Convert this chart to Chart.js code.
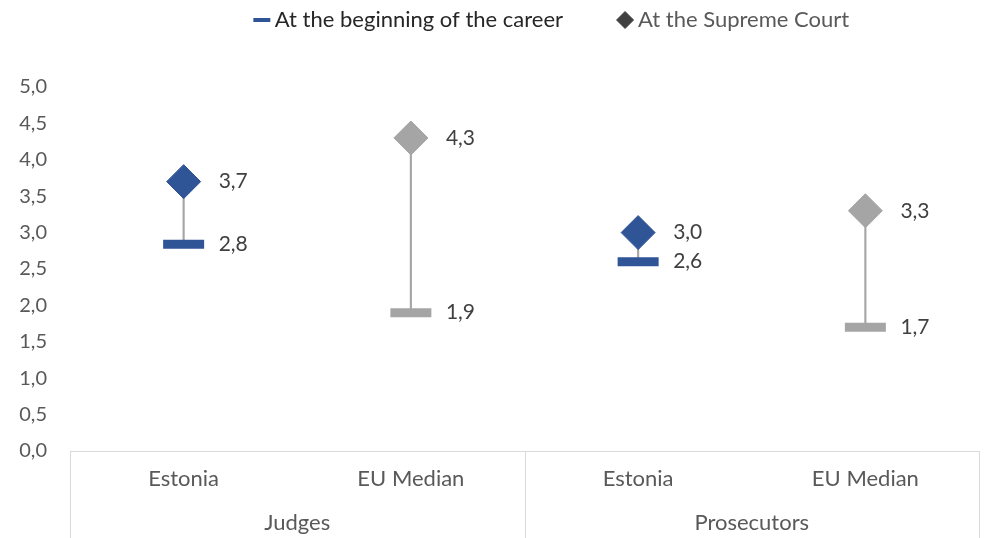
<!DOCTYPE html>
<html lang="en">
<head>
<meta charset="UTF-8">
<title>Salary at the beginning of the career and at the Supreme Court</title>
<script src="https://cdn.jsdelivr.net/npm/chart.js"></script>
<style>
  html, body { margin: 0; padding: 0; background: #fff; }
  #wrap { width: 984px; height: 538px; }
</style>
</head>
<body>
<div id="wrap"><canvas id="chart"></canvas></div>
<script>
// data
const categories = ['Estonia', 'EU Median', 'Estonia', 'EU Median'];
const groups = ['Judges', 'Prosecutors'];
const beginning = [2.84, 1.9, 2.6, 1.7];
const supreme = [3.7, 4.3, 3.0, 3.3];

const blue = '#2f5597';
const grey = '#a5a5a5';
const markerColors = [blue, grey, blue, grey];
const fontFamily = 'Lato, "Open Sans", sans-serif';

const fmt = v => v.toFixed(1).replace('.', ',');

// legend sits higher and off-centre like the original, with room under it
const legendPlace = {
    id: 'legendPlace',
    beforeInit(chart) {
        const legend = chart.legend;
        const fit = legend.fit;
        legend.fit = function () {
            fit.call(this);
            this.height -= 5;
        };
    },
    afterLayout(chart) {
        const legend = chart.legend;
        legend.top -= 51;
        legend.bottom -= 51;
        legend.left += 65;
        legend.right += 65;
    }
};

// box lines under the x axis (category group separators)
const boxLines = {
    id: 'boxLines',
    afterDraw(chart) {
        const x = chart.scales.x;
        const ctx = chart.ctx;
        const mid = (x.getPixelForValue(1) + x.getPixelForValue(2)) / 2;
        ctx.save();
        ctx.strokeStyle = '#d9d9d9';
        ctx.lineWidth = 1;
        ctx.beginPath();
        [x.left, mid, x.right].forEach(px => {
            const p = Math.round(px) + 0.5;
            ctx.moveTo(p, x.top);
            ctx.lineTo(p, chart.height);
        });
        ctx.stroke();
        ctx.restore();
    }
};

// value labels to the right of each marker
const valueLabels = {
    id: 'valueLabels',
    afterDatasetsDraw(chart) {
        const ctx = chart.ctx;
        ctx.save();
        ctx.font = '21px ' + fontFamily;
        ctx.fillStyle = '#404040';
        ctx.textAlign = 'left';
        ctx.textBaseline = 'middle';
        [1, 2].forEach(i => {
            chart.getDatasetMeta(i).data.forEach((pt, j) => {
                ctx.fillText(fmt(chart.data.datasets[i].data[j]), pt.x + 35, pt.y);
            });
        });
        ctx.restore();
    }
};

const ctx = document.getElementById('chart').getContext('2d');
new Chart(ctx, {
    data: {
        labels: categories,
        datasets: [
            {
                type: 'bar',
                label: 'range',
                data: beginning.map((b, i) => [b, supreme[i]]),
                backgroundColor: '#a6a6a6',
                barThickness: 1.5,
                order: 3
            },
            {
                type: 'line',
                label: 'At the beginning of the career',
                data: beginning,
                showLine: false,
                pointStyle: 'line',
                pointRadius: 20.5,
                pointBorderWidth: 9,
                pointBorderColor: markerColors,
                pointBackgroundColor: markerColors,
                order: 2
            },
            {
                type: 'line',
                label: 'At the Supreme Court',
                data: supreme,
                showLine: false,
                pointStyle: 'rectRot',
                pointRadius: 17,
                pointBorderWidth: 1,
                pointBorderColor: markerColors,
                pointBackgroundColor: markerColors,
                order: 1
            }
        ]
    },
    options: {
        responsive: true,
        maintainAspectRatio: false,
        animation: false,
        layout: { autoPadding: false, padding: { top: 0, right: 5, bottom: 0, left: 0 } },
        plugins: {
            tooltip: { enabled: false },
            legend: {
                position: 'top',
                labels: {
                    usePointStyle: true,
                    boxWidth: 4,
                    boxHeight: 12,
                    padding: 60,
                    font: { family: fontFamily, size: 22 },
                    generateLabels: () => [
                        {
                            text: 'At the beginning of the career',
                            pointStyle: 'line',
                            strokeStyle: blue,
                            fillStyle: blue,
                            lineWidth: 4,
                            fontColor: '#262626',
                            datasetIndex: 1
                        },
                        {
                            text: 'At the Supreme Court',
                            pointStyle: 'rectRot',
                            strokeStyle: '#404040',
                            fillStyle: '#404040',
                            lineWidth: 1,
                            fontColor: '#595959',
                            datasetIndex: 2
                        }
                    ]
                }
            }
        },
        scales: {
            y: {
                min: 0,
                max: 5,
                afterFit: scale => { scale.width = 70; },
                grid: { display: false, drawTicks: false },
                border: { display: false },
                ticks: {
                    stepSize: 0.5,
                    padding: 23,
                    color: '#595959',
                    font: { family: fontFamily, size: 20 },
                    callback: v => fmt(v)
                }
            },
            x: {
                offset: true,
                weight: 0,
                afterFit: scale => { scale.height = 49; },
                grid: { display: false, drawTicks: false },
                border: { display: true, color: '#d9d9d9' },
                ticks: {
                    padding: 15,
                    color: '#595959',
                    font: { family: fontFamily, size: 22 }
                }
            },
            x2: {
                type: 'category',
                position: 'bottom',
                labels: groups,
                offset: true,
                weight: 1,
                afterFit: scale => { scale.height = 38; },
                grid: { display: false, drawTicks: false },
                border: { display: false },
                ticks: {
                    padding: 10,
                    color: '#595959',
                    font: { family: fontFamily, size: 22 }
                }
            }
        }
    },
    plugins: [legendPlace, boxLines, valueLabels]
});
</script>
</body>
</html>
